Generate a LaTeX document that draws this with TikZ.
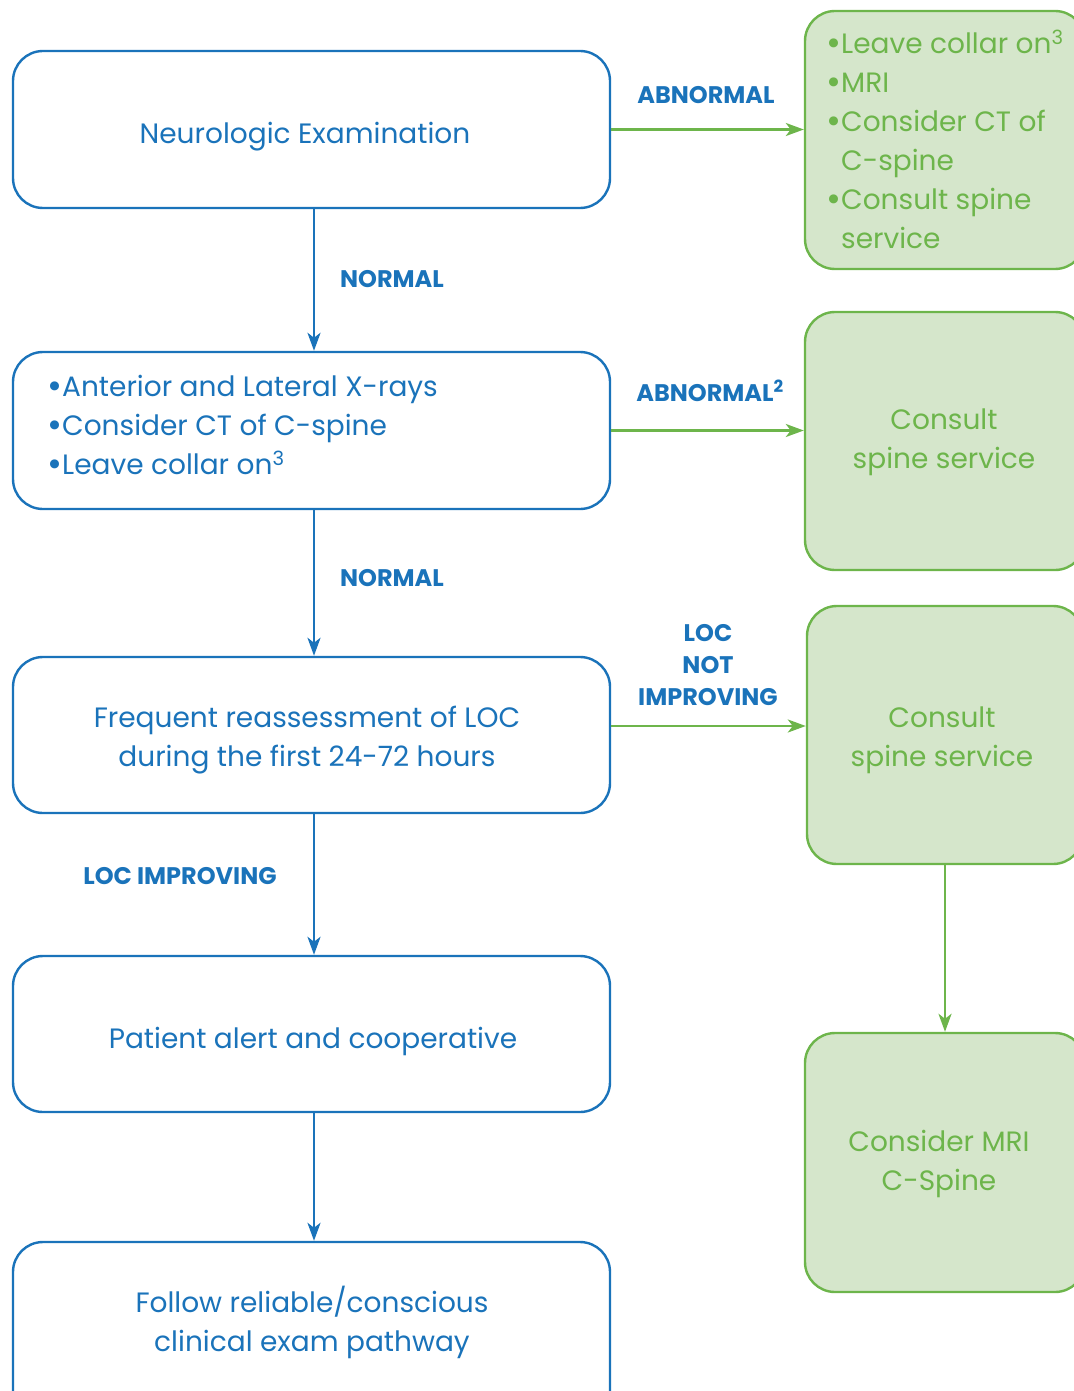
\documentclass[tikz,border=0pt]{standalone}
\usepackage{fontspec}
\setmainfont{Poppins}
\usetikzlibrary{arrows.meta}
\definecolor{cblue}{HTML}{1A73BA}
\definecolor{cgreen}{HTML}{6DB54B}
\definecolor{cfill}{HTML}{D5E6CB}
\tikzset{
  bbox/.style={draw=cblue, line width=2.4pt, rounded corners=30pt, fill=white, inner sep=0pt},
  gbox/.style={draw=cgreen, line width=2.4pt, rounded corners=30pt, fill=cfill, inner sep=0pt},
  mtxt/.style={font=\fontsize{28}{39}\selectfont, inner sep=0pt},
  btxt/.style={mtxt, text=cblue, align=center},
  gtxt/.style={mtxt, text=cgreen, align=center},
  lbl/.style={text=cblue, font=\fontsize{24}{32}\selectfont\bfseries, align=center, inner sep=0pt},
  barrow/.style={draw=cblue, line width=2.7pt, -{Stealth[length=18pt,width=13pt,inset=5pt]}},
  garrow/.style={draw=cgreen, line width=2.7pt, -{Stealth[length=18pt,width=13pt,inset=5pt]}},
}
\newcommand{\bul}{\makebox[15pt][l]{\raisebox{-1.5pt}{\scalebox{1.3}{•}}}}
\begin{document}
\begin{tikzpicture}[x=1pt,y=-1pt]
\useasboundingbox (0,0) rectangle (1073,1391);
% blue boxes
\node[bbox, minimum width=597pt, minimum height=157pt] (n1) at (311.5,129.5) {};
\node[btxt] (t1) at (305,137) {Neurologic Examination};
\node[bbox, minimum width=597pt, minimum height=157pt] (n2) at (311.5,430.5) {};
\node[btxt, align=left, anchor=west] (t2) at (47,426) {\bul Anterior and Lateral X-rays\\\bul Consider CT of C-spine\\\bul Leave collar on\textsuperscript{3}};
\node[bbox, minimum width=597pt, minimum height=156pt] (n3) at (311.5,735) {};
\node[btxt] (t3) at (307,740.5) {Frequent reassessment of LOC\\during the first 24-72 hours};
\node[bbox, minimum width=597pt, minimum height=156pt] (n4) at (311.5,1034) {};
\node[btxt] (t4) at (313,1041) {Patient alert and cooperative};
\node[bbox, minimum width=597pt, minimum height=200pt] (n5) at (311.5,1342) {};
\node[btxt] (t5) at (312,1322.5) {Follow reliable/conscious\\clinical exam pathway};
% green boxes
\node[gbox, minimum width=280pt, minimum height=258pt] (g1) at (945,140) {};
\node[gtxt, align=left, anchor=west] (tg1) at (826,139.5) {\bul Leave collar on\textsuperscript{3}\\\bul MRI\\\bul Consider CT of\\\hspace*{15pt}C-spine\\\bul Consult spine\\\hspace*{15pt}service};
\node[gbox, minimum width=280pt, minimum height=258pt] (g2) at (945,441) {};
\node[gtxt] (tg2) at (944,442.5) {Consult\\spine service};
\node[gbox, minimum width=276pt, minimum height=258pt] (g3) at (945,735) {};
\node[gtxt] (tg3) at (942,740.5) {Consult\\spine service};
\node[gbox, minimum width=280pt, minimum height=259pt] (g4) at (945,1162.5) {};
\node[gtxt] (tg4) at (939,1163.5) {Consider MRI\\C-Spine};
% blue arrows
\draw[barrow] ([xshift=2.5pt]n1.south) -- ([xshift=2.5pt]n2.north);
\draw[barrow] ([xshift=2.5pt]n2.south) -- ([xshift=2.5pt]n3.north);
\draw[barrow] ([xshift=2.5pt]n3.south) -- ([xshift=2.5pt]n4.north);
\draw[barrow] ([xshift=2.5pt]n4.south) -- ([xshift=2.5pt]n5.north);
\node[lbl] (l1) at (392,279) {NORMAL};
\node[lbl] (l2) at (392,578) {NORMAL};
\node[lbl] (l3) at (180,876) {LOC IMPROVING};
% green arrows
\draw[garrow] (n1.east) -- (n1.east -| g1.west);
\draw[garrow] (n2.east) -- (n2.east -| g2.west);
\draw[garrow] ([yshift=9pt]n3.east) -- ([yshift=9pt]n3.east -| g3.west);
\draw[garrow] (g3.south) -- (g4.north);
\node[lbl] (l4) at (706,95) {ABNORMAL};
\node[lbl] (l5) at (710,391) {ABNORMAL\textsuperscript{2}};
\node[lbl] (l6) at (708,665) {LOC\\NOT\\IMPROVING};
\end{tikzpicture}
\end{document}
